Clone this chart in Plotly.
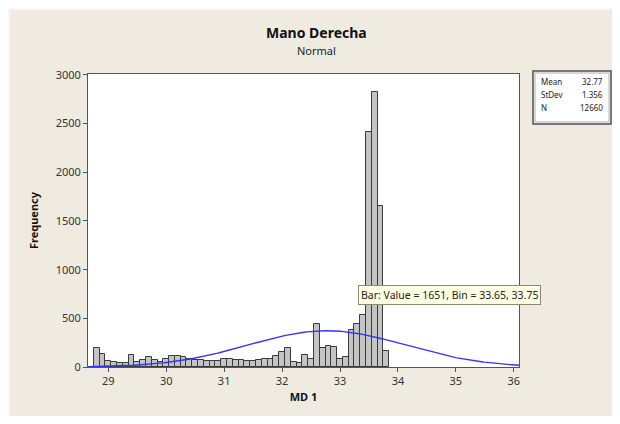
import math
import plotly.graph_objects as go

# ---- data ----
bin_centers = [28.8, 28.9, 29.0, 29.1, 29.2, 29.3, 29.4, 29.5, 29.6, 29.7,
               29.8, 29.9, 30.0, 30.1, 30.2, 30.3, 30.4, 30.5, 30.6, 30.7,
               30.8, 30.9, 31.0, 31.1, 31.2, 31.3, 31.4, 31.5, 31.6, 31.7,
               31.8, 31.9, 32.0, 32.1, 32.2, 32.3, 32.4, 32.5, 32.6, 32.7,
               32.8, 32.9, 33.0, 33.1, 33.2, 33.3, 33.4, 33.5, 33.6, 33.7,
               33.8]
frequencies = [200, 135, 60, 55, 45, 45, 120, 55, 70, 105,
               75, 50, 85, 115, 115, 105, 85, 70, 77, 65,
               60, 60, 80, 80, 67, 67, 60, 60, 67, 80,
               80, 112, 150, 195, 53, 40, 122, 85, 440, 195,
               212, 202, 85, 98, 380, 440, 530, 2410, 2830, 1651,
               165]
bin_width = 0.1
fit_mean = 32.77
fit_stdev = 1.356
fit_n = 12660
x_ticks = [29, 30, 31, 32, 33, 34, 35, 36]
y_ticks = [0, 500, 1000, 1500, 2000, 2500, 3000]
stat_labels = ["Mean", "StDev", "N"]
stat_values = ["32.77", "1.356", "12660"]

# ---- fitted normal curve (from displayed fit parameters) ----
x_min, x_max = 28.65, 36.09
n_pts = 300
curve_x = [x_min + (x_max - x_min) * i / (n_pts - 1) for i in range(n_pts)]
scale = fit_n * bin_width / (fit_stdev * math.sqrt(2 * math.pi))
curve_y = [scale * math.exp(-0.5 * ((v - fit_mean) / fit_stdev) ** 2) for v in curve_x]

# ---- geometry (page pixels; page body has an 8px margin on every side) ----
OFF = 8
PAGE_W, PAGE_H = 620, 424
W, H = PAGE_W - 2 * OFF, PAGE_H - 2 * OFF
L, R, T, B = 88, 519, 74, 367   # plot area in page pixels
pw, ph = R - L, B - T

def px(xp):
    return (xp - L) / pw

def py(yp):
    return (B - yp) / ph

FONT = "Noto Sans"

fig = go.Figure()
fig.add_trace(go.Bar(
    x=bin_centers, y=frequencies, width=bin_width,
    marker=dict(color="#c4c4c4", line=dict(color="#3a3a3a", width=1)),
    hoverinfo="skip", showlegend=False))
fig.add_trace(go.Scatter(
    x=curve_x, y=curve_y, mode="lines",
    line=dict(color="#3434ff", width=1.4),
    hoverinfo="skip", showlegend=False))

shapes = []
# light border strips at top and left
shapes.append(dict(type="rect", xref="paper", yref="paper", layer="below",
                   x0=px(0), x1=px(630), y0=py(10), y1=py(0),
                   fillcolor="#f7f7f7", line=dict(width=0)))
shapes.append(dict(type="rect", xref="paper", yref="paper", layer="below",
                   x0=px(0), x1=px(10), y0=py(430), y1=py(0),
                   fillcolor="#f7f7f7", line=dict(width=0)))
# stats box
shapes.append(dict(type="rect", xref="paper", yref="paper",
                   x0=px(533), x1=px(611), y0=py(124), y1=py(71),
                   fillcolor="white", line=dict(color="#505050", width=1.5)))
shapes.append(dict(type="rect", xref="paper", yref="paper",
                   x0=px(535), x1=px(609), y0=py(122), y1=py(73),
                   fillcolor="rgba(0,0,0,0)", line=dict(color="#9a9a9a", width=0.8)))

annotations = []
annotations.append(dict(text="<b>Mano Derecha</b>", xref="paper", yref="paper",
                        x=px(316), y=py(33), showarrow=False,
                        font=dict(family=FONT, size=14, color="#111"),
                        xanchor="center", yanchor="middle"))
annotations.append(dict(text="Normal", xref="paper", yref="paper",
                        x=px(316), y=py(51), showarrow=False,
                        font=dict(family=FONT, size=11, color="#222"),
                        xanchor="center", yanchor="middle"))
for i, (lab, val) in enumerate(zip(stat_labels, stat_values)):
    yy = py(82 + i * 13)
    annotations.append(dict(text=lab, xref="paper", yref="paper", x=px(539), y=yy,
                            showarrow=False, xanchor="left", yanchor="middle",
                            font=dict(family=FONT, size=8, color="#222")))
    annotations.append(dict(text=val, xref="paper", yref="paper", x=px(605), y=yy,
                            showarrow=False, xanchor="right", yanchor="middle",
                            font=dict(family=FONT, size=8, color="#222")))
# tooltip
annotations.append(dict(text="Bar: Value = 1651, Bin = 33.65, 33.75",
                        xref="paper", yref="paper", x=px(358), y=py(295),
                        showarrow=False, xanchor="left", yanchor="middle",
                        font=dict(family=FONT, size=10.5, color="#222"),
                        bgcolor="#ffffe3", bordercolor="#8a8a70", borderwidth=1,
                        borderpad=2))

fig.update_layout(
    width=W, height=H,
    margin=dict(l=L - OFF, r=(PAGE_W - OFF) - R, t=T - OFF, b=(PAGE_H - OFF) - B, pad=0),
    paper_bgcolor="#efebe1", plot_bgcolor="white",
    bargap=0, shapes=shapes, annotations=annotations,
    showlegend=False,
    font=dict(family=FONT, size=11, color="#333"),
)
fig.update_xaxes(range=[x_min, x_max], tickmode="array", tickvals=x_ticks,
                 ticktext=[str(t) for t in x_ticks],
                 showgrid=False, zeroline=False, showline=True, mirror=True,
                 linecolor="#555", linewidth=1, ticks="outside", ticklen=4,
                 tickcolor="#555", tickfont=dict(family=FONT, size=11, color="#333"),
                 title=dict(text="<b>MD 1</b>", standoff=6,
                            font=dict(family=FONT, size=11, color="#111")))
fig.update_yaxes(range=[0, 3010], tickmode="array", tickvals=y_ticks,
                 ticktext=[str(t) for t in y_ticks],
                 showgrid=False, zeroline=False, showline=True, mirror=True,
                 linecolor="#555", linewidth=1, ticks="outside", ticklen=4,
                 tickcolor="#555", tickfont=dict(family=FONT, size=11, color="#333"),
                 title=dict(text="<b>Frequency</b>", standoff=14,
                            font=dict(family=FONT, size=11, color="#111")))

fig.write_html("out.html")
